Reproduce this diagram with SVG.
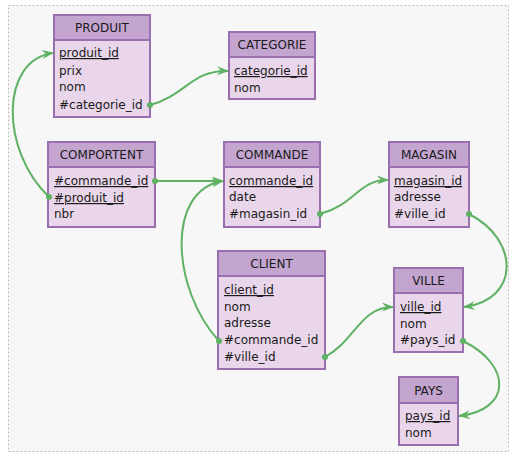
<svg xmlns="http://www.w3.org/2000/svg" width="514" height="458" viewBox="0 0 514 458">
<style>
.hd{fill:#c3a5cf;stroke:#9a6fb0;stroke-width:2}
.bd{fill:#e9d6ea;stroke:#9a6fb0;stroke-width:2}
.t{font-family:"DejaVu Sans",Verdana,sans-serif;font-size:12px;fill:#1a1a1a}
.c{text-anchor:middle}
.u{text-decoration:underline}
.ln{fill:none;stroke:#5fb163;stroke-width:2}
.dot{fill:#5fb163}
</style>
<defs>
<marker id="ar" viewBox="0 0 12 10" refX="11" refY="5" markerWidth="12" markerHeight="10" markerUnits="userSpaceOnUse" orient="auto">
<path d="M0,0.5 L12,5 L0,9.5 L4,5 z" fill="#5fb163"/>
</marker>
</defs>
<rect x="8.5" y="5.5" width="500" height="446" fill="#f7f7f7" stroke="#bbbbbb" stroke-dasharray="2,2"/>
<g id="produit">
<rect class="bd" x="54" y="15" width="96" height="102"/>
<rect class="hd" x="54" y="15" width="96" height="25"/>
<text class="t c" x="102" y="32">PRODUIT</text>
<text class="t u" x="59" y="57">produit_id</text>
<text class="t" x="59" y="75">prix</text>
<text class="t" x="59" y="91">nom</text>
<text class="t" x="59" y="109">#categorie_id</text>
</g>
<g id="categorie">
<rect class="bd" x="229" y="32" width="86" height="67"/>
<rect class="hd" x="229" y="32" width="86" height="25"/>
<text class="t c" x="272" y="49">CATEGORIE</text>
<text class="t u" x="234" y="75">categorie_id</text>
<text class="t" x="234" y="92">nom</text>
</g>
<g id="comportent">
<rect class="bd" x="48" y="142" width="107" height="85"/>
<rect class="hd" x="48" y="142" width="107" height="25"/>
<text class="t c" x="101.5" y="159">COMPORTENT</text>
<text class="t u" x="54" y="185">#commande_id</text>
<text class="t u" x="54" y="202">#produit_id</text>
<text class="t" x="54" y="218">nbr</text>
</g>
<g id="commande">
<rect class="bd" x="224" y="142" width="96" height="85"/>
<rect class="hd" x="224" y="142" width="96" height="25"/>
<text class="t c" x="272" y="159">COMMANDE</text>
<text class="t u" x="229" y="185">commande_id</text>
<text class="t" x="229" y="201">date</text>
<text class="t" x="229" y="218">#magasin_id</text>
</g>
<g id="magasin">
<rect class="bd" x="389" y="142" width="80" height="85"/>
<rect class="hd" x="389" y="142" width="80" height="25"/>
<text class="t c" x="429" y="159">MAGASIN</text>
<text class="t u" x="394" y="185">magasin_id</text>
<text class="t" x="394" y="201">adresse</text>
<text class="t" x="394" y="218">#ville_id</text>
</g>
<g id="client">
<rect class="bd" x="218" y="251" width="107" height="118"/>
<rect class="hd" x="218" y="251" width="107" height="25"/>
<text class="t c" x="271.5" y="268">CLIENT</text>
<text class="t u" x="224" y="294">client_id</text>
<text class="t" x="224" y="311">nom</text>
<text class="t" x="224" y="327">adresse</text>
<text class="t" x="224" y="344">#commande_id</text>
<text class="t" x="224" y="361">#ville_id</text>
</g>
<g id="ville">
<rect class="bd" x="394" y="268" width="69" height="84"/>
<rect class="hd" x="394" y="268" width="69" height="25"/>
<text class="t c" x="428.5" y="285">VILLE</text>
<text class="t u" x="400" y="311">ville_id</text>
<text class="t" x="400" y="328">nom</text>
<text class="t" x="400" y="344">#pays_id</text>
</g>
<g id="pays">
<rect class="bd" x="399" y="377" width="59" height="68"/>
<rect class="hd" x="399" y="377" width="59" height="26"/>
<text class="t c" x="428.5" y="395">PAYS</text>
<text class="t u" x="405" y="420">pays_id</text>
<text class="t" x="405" y="437">nom</text>
</g>
<g id="connectors">
<path class="ln" d="M150,105 C186,95 192,70 228,71" marker-end="url(#ar)"/>
<path class="ln" d="M49,197 C0,150 0,60 53,53" marker-end="url(#ar)"/>
<path class="ln" d="M155,181 L223,181" marker-end="url(#ar)"/>
<path class="ln" d="M320,214 C356,204 358,180 388,180" marker-end="url(#ar)"/>
<path class="ln" d="M469,214 C520,240 520,300 464,307" marker-end="url(#ar)"/>
<path class="ln" d="M219,341 C172,290 165,190 223,181" marker-end="url(#ar)"/>
<path class="ln" d="M325,357 C356,340 360,307 393,307" marker-end="url(#ar)"/>
<path class="ln" d="M463,341 C512,365 512,410 459,416" marker-end="url(#ar)"/>
<circle class="dot" cx="150" cy="105" r="3"/>
<circle class="dot" cx="49" cy="197" r="3"/>
<circle class="dot" cx="155" cy="181" r="3"/>
<circle class="dot" cx="320" cy="214" r="3"/>
<circle class="dot" cx="469" cy="214" r="3"/>
<circle class="dot" cx="219" cy="341" r="3"/>
<circle class="dot" cx="325" cy="357" r="3"/>
<circle class="dot" cx="463" cy="341" r="3"/>
</g>
</svg>
